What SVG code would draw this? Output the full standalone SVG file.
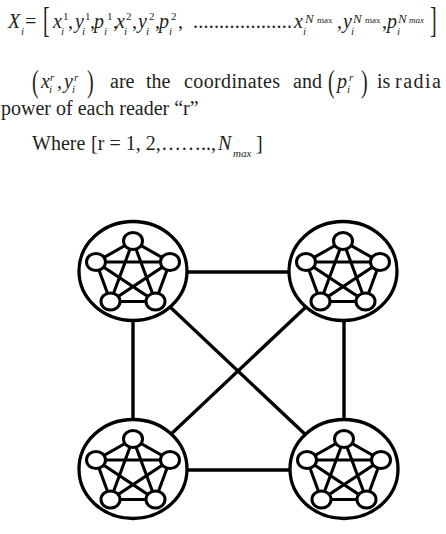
<svg xmlns="http://www.w3.org/2000/svg" xmlns:xlink="http://www.w3.org/1999/xlink" width="446" height="534" viewBox="0 0 446 534">
  <style>
    text { font-family: "Liberation Serif", "Times New Roman", serif; fill: #231f20; }
    .it { font-style: italic; font-size: 20px; }
    .up { font-size: 20px; }
    .sm { font-size: 11px; }
    .smi { font-size: 11px; font-style: italic; }
    .nn { font-size: 13px; font-style: italic; }
    .mx { font-size: 9px; }
    .mxi { font-size: 9px; font-style: italic; }
    .wire { stroke: #000; stroke-width: 3.4; fill: none; stroke-linecap: butt; }
    .ring { stroke: #000; stroke-width: 3.3; fill: #fff; }
    .edge { stroke: #000; stroke-width: 3.1; fill: none; }
    .dot { stroke: #000; stroke-width: 3; fill: #fff; }
  </style>
  <defs>
    <!-- one reader cluster: ring, pentagon mesh with star, five nodes -->
    <g id="cluster">
      <ellipse class="ring" cx="0" cy="0" rx="54" ry="49.5"/>
      <path class="edge" d="M0,-30 L-37,-9 L-22.5,30.5 L22.5,30.5 L37,-9 Z M0,-30 L-22.5,30.5 L37,-9 L-37,-9 L22.5,30.5 Z"/>
      <ellipse class="dot" cx="0" cy="-30" rx="9.5" ry="8.5"/>
      <ellipse class="dot" cx="-37" cy="-9" rx="9.5" ry="8.5"/>
      <ellipse class="dot" cx="37" cy="-9" rx="9.5" ry="8.5"/>
      <ellipse class="dot" cx="-22.5" cy="30.5" rx="9.5" ry="8.5"/>
      <ellipse class="dot" cx="22.5" cy="30.5" rx="9.5" ry="8.5"/>
    </g>
  </defs>

  <rect width="446" height="534" fill="#fff"/>

  <!-- equation line -->
  <g id="equation">
    <text class="it" x="8" y="28">X</text><text class="smi" x="21" y="35">i</text>
    <text class="up" x="25" y="28">=</text>
    <text class="up" transform="translate(43,31.5) scale(1,1.75)">[</text>
    <text class="it" x="53" y="28">x</text><text class="sm" x="63" y="20">1</text><text class="smi" x="61" y="35">i</text>
    <text class="up" x="68" y="28">,</text>
    <text class="it" x="75" y="28">y</text><text class="sm" x="85" y="20">1</text><text class="smi" x="82" y="35">i</text>
    <text class="up" x="90" y="28">,</text>
    <text class="it" x="94" y="28">p</text><text class="sm" x="107" y="20">1</text><text class="smi" x="104" y="35">i</text>
    <text class="up" x="113" y="28">,</text>
    <text class="it" x="116" y="28">x</text><text class="sm" x="126" y="20">2</text><text class="smi" x="124" y="35">i</text>
    <text class="up" x="132" y="28">,</text>
    <text class="it" x="138" y="28">y</text><text class="sm" x="149" y="20">2</text><text class="smi" x="146" y="35">i</text>
    <text class="up" x="155" y="28">,</text>
    <text class="it" x="159" y="28">p</text><text class="sm" x="171" y="20">2</text><text class="smi" x="169" y="35">i</text>
    <text class="up" x="178" y="28">,</text>
    <text class="up" x="193" y="28" textLength="99" lengthAdjust="spacing">...................</text>
    <text class="it" x="294" y="28">x</text><text class="smi" x="303" y="35">i</text><text class="nn" x="305" y="22.5">N</text><text class="mx" x="317" y="22.5">max</text>
    <text class="up" x="337" y="28">,</text>
    <text class="it" x="343" y="28">y</text><text class="smi" x="351" y="35">i</text><text class="nn" x="353" y="22.5">N</text><text class="mx" x="365" y="22.5">max</text>
    <text class="up" x="382" y="28">,</text>
    <text class="it" x="387" y="28">p</text><text class="smi" x="397" y="35">i</text><text class="nn" x="398" y="22.5">N</text><text class="mxi" x="409" y="22.5">max</text>
    <text class="up" transform="translate(430,31.5) scale(1,1.75)">]</text>
  </g>

  <!-- explanation paragraph -->
  <g id="explanation">
    <text class="up" transform="translate(32,92.2) scale(1,1.6)">(</text>
    <text class="it" x="41" y="88">x</text><text class="smi" x="50" y="81">r</text><text class="smi" x="49" y="93">i</text>
    <text class="up" x="57" y="88">,</text>
    <text class="it" x="64" y="88">y</text><text class="smi" x="74" y="81">r</text><text class="smi" x="72" y="93">i</text>
    <text class="up" transform="translate(87,92.2) scale(1,1.6)">)</text>
    <text class="up" x="110" y="88">are</text>
    <text class="up" x="146" y="88">the</text>
    <text class="up" x="184" y="88" textLength="96" lengthAdjust="spacing">coordinates</text>
    <text class="up" x="293" y="88">and</text>
    <text class="up" transform="translate(328,92.2) scale(1,1.6)">(</text>
    <text class="it" x="337" y="88">p</text><text class="smi" x="349" y="81">r</text><text class="smi" x="347" y="93">i</text>
    <text class="up" transform="translate(361,92.2) scale(1,1.6)">)</text>
    <text class="up" x="377" y="88">is</text>
    <text class="up" x="395" y="88" textLength="46" lengthAdjust="spacing">radia</text>
    <text class="up" x="1" y="115">power of each reader “r”</text>
    <text class="up" x="32" y="150">Where</text>
    <text class="up" x="91" y="150" textLength="125" lengthAdjust="spacing">[r = 1, 2,……..,</text>
    <text class="it" x="218" y="150">N</text><text class="smi" x="233" y="157">max</text>
    <text class="up" x="256" y="150">]</text>
  </g>

  <!-- links between the four reader clusters -->
  <g id="connectors">
    <line class="wire" x1="133" y1="272" x2="343" y2="272"/>
    <line class="wire" x1="133" y1="470" x2="343" y2="470"/>
    <line class="wire" x1="133" y1="272" x2="133" y2="470"/>
    <line class="wire" x1="344" y1="272" x2="344" y2="470"/>
    <line class="wire" x1="133" y1="272" x2="343" y2="470"/>
    <line class="wire" x1="343" y1="272" x2="133" y2="470"/>
  </g>

  <g id="reader-tl"><use xlink:href="#cluster" transform="translate(133,271)"/></g>
  <g id="reader-tr"><use xlink:href="#cluster" transform="translate(343,271)"/></g>
  <g id="reader-bl"><use xlink:href="#cluster" transform="translate(133,469)"/></g>
  <g id="reader-br"><use xlink:href="#cluster" transform="translate(344,469)"/></g>
</svg>
